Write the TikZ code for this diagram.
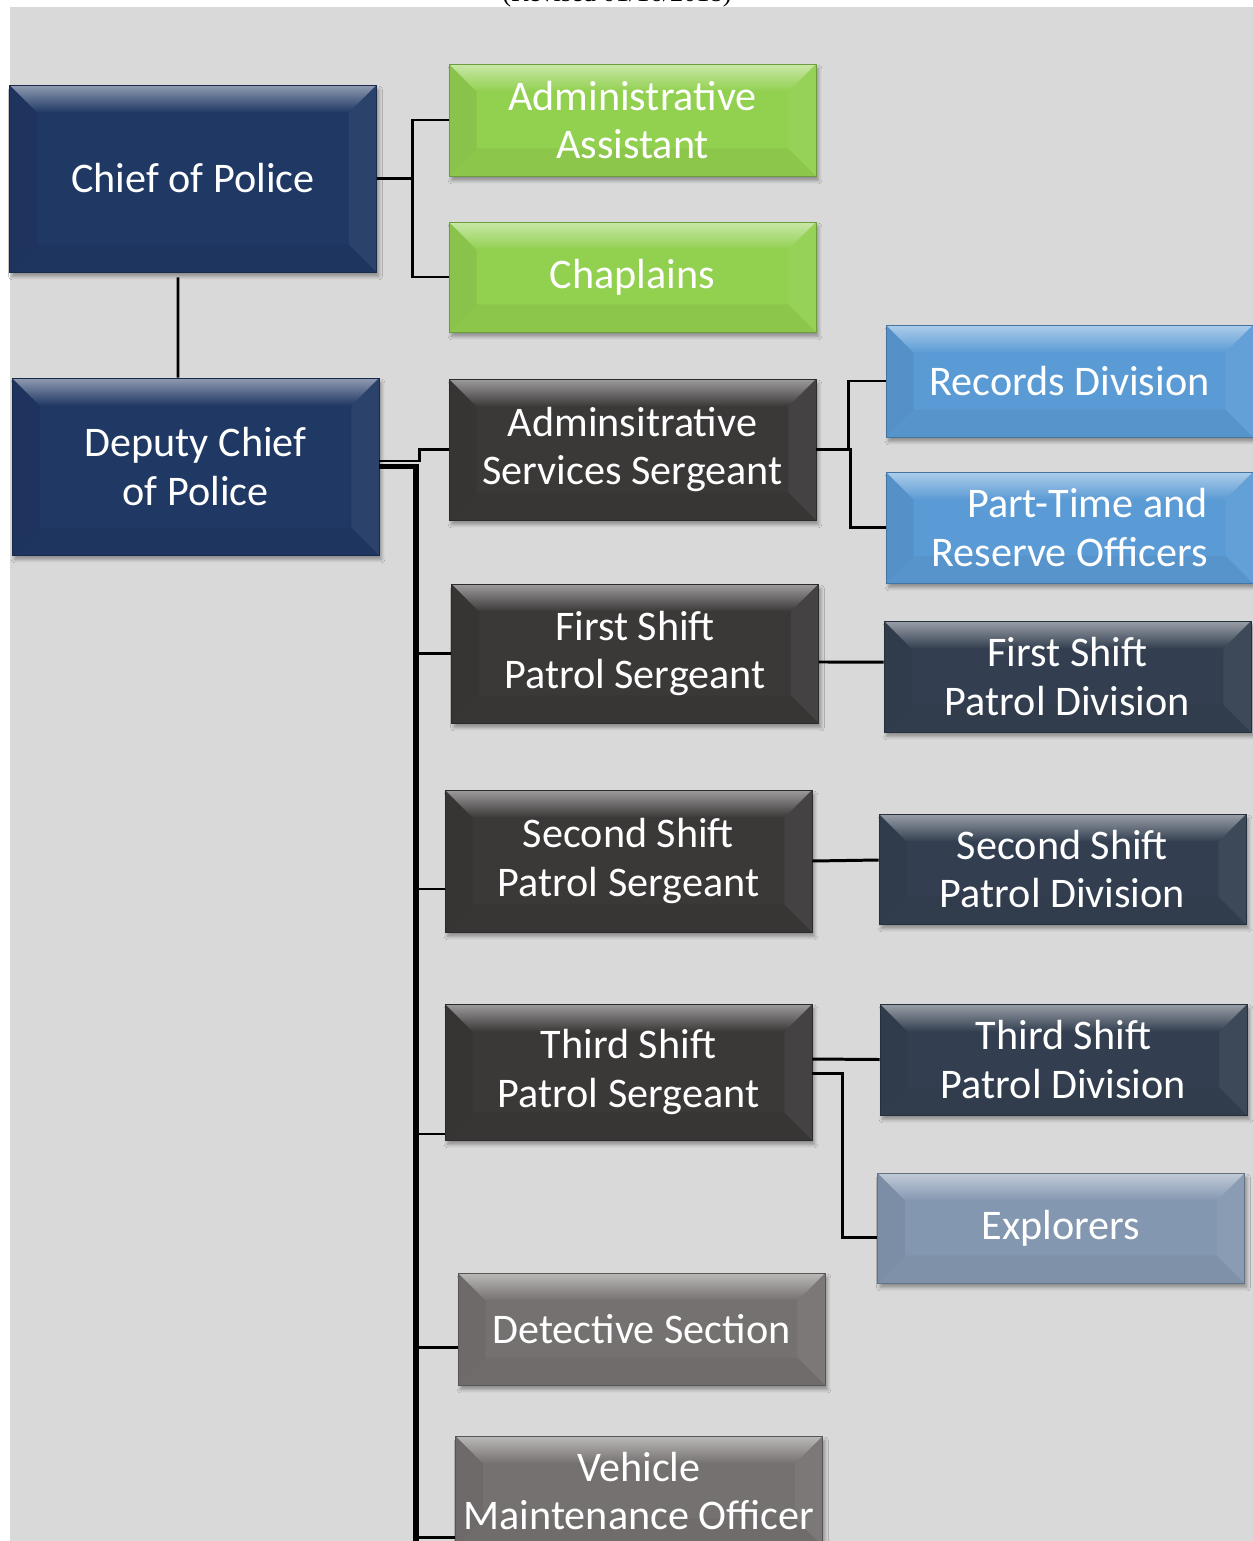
\documentclass[tikz,border=0pt]{standalone}
\usepackage{fontspec}
\setmainfont{Carlito}
\newfontfamily\revfont{Liberation Serif}
\usetikzlibrary{shadows.blur}
\definecolor{bggray}{RGB}{217,217,217}
\definecolor{chiefblue}{RGB}{32,56,100}
\definecolor{aidegreen}{RGB}{146,208,80}
\definecolor{sgtgray}{RGB}{59,56,56}
\definecolor{recblue}{RGB}{91,155,213}
\definecolor{divslate}{RGB}{51,63,80}
\definecolor{explgray}{RGB}{132,151,176}
\definecolor{detgray}{RGB}{118,113,113}

\begin{document}
\begin{tikzpicture}[x=0.02cm, y=-0.02cm,
  orgbox/.style = {shape=rectangle, draw=#1!75!black, fill=#1, text=white,
    align=center, inner sep=0pt, minimum width=7.34cm,
    font=\fontsize{24}{27.5}\selectfont,
    blur shadow={shadow xshift=0.05cm, shadow yshift=-0.09cm,
      shadow opacity=35, shadow blur steps=6},
    path picture={
      \path (path picture bounding box.north west) coordinate (bnw)
            (path picture bounding box.north east) coordinate (bne)
            (path picture bounding box.south west) coordinate (bsw)
            (path picture bounding box.south east) coordinate (bse);
      \fill[black, opacity=.06] (bnw) -- ([shift={(.55cm,-.55cm)}]bnw)
        -- ([shift={(.55cm,.55cm)}]bsw) -- (bsw) -- cycle;
      \fill[white, opacity=.05] (bne) -- ([shift={(-.55cm,-.55cm)}]bne)
        -- ([shift={(-.55cm,.55cm)}]bse) -- (bse) -- cycle;
      \fill[black, opacity=.04] (bsw) -- ([shift={(.55cm,.55cm)}]bsw)
        -- ([shift={(-.55cm,.55cm)}]bse) -- (bse) -- cycle;
      \shade[top color=#1!50!white, bottom color=#1] (bnw) -- (bne)
        -- ([shift={(-.55cm,-.55cm)}]bne) -- ([shift={(.55cm,-.55cm)}]bnw) -- cycle;
    }},
  link/.style = {draw=black, line width=1.7pt},
  bus/.style = {draw=black, line width=3.4pt, line join=miter}]

  \useasboundingbox (0,0) rectangle (1253,1541);
  \fill[white] (0,0) rectangle (1253,1541);
  \fill[bggray] (10,7) rectangle (1253,1541);
  \node[font=\revfont\fontsize{15}{18}\selectfont, anchor=base] (revised) at (617,2) {(Revised 01/16/2018)};

  % left column
  \node[orgbox=chiefblue, minimum height=3.74cm] (chief) at (193,178.5) {Chief of Police};
  \node[orgbox=chiefblue, minimum height=3.54cm] (deputy) at (195.5,466.5) {Deputy Chief\\of Police};

  % middle column
  \node[orgbox=aidegreen, minimum height=2.24cm] (assist) at (632.5,120) {Administrative\\Assistant};
  \node[orgbox=aidegreen, minimum height=2.2cm] (chaplains) at (632.5,277) {Chaplains};
  \node[orgbox=sgtgray, minimum height=2.82cm] (adminsgt) at (632.5,449.5) {Adminsitrative\\Services Sergeant};
  \node[orgbox=sgtgray, minimum height=2.78cm] (sgtone) at (635,653.5) {First Shift\\Patrol Sergeant};
  \node[orgbox=sgtgray, minimum height=2.84cm] (sgttwo) at (628.5,861) {Second Shift\\Patrol Sergeant};
  \node[orgbox=sgtgray, minimum height=2.72cm] (sgtthree) at (628.5,1072) {Third Shift\\Patrol Sergeant};
  \node[orgbox=detgray, minimum height=2.24cm] (detective) at (641.5,1329) {Detective Section};
  \node[orgbox=detgray, minimum height=2.2cm] (vehicle) at (639,1491) {Vehicle\\Maintenance Officer};

  % right column
  \node[orgbox=recblue, minimum height=2.24cm] (records) at (1069.5,381) {Records Division};
  \node[orgbox=recblue, minimum height=2.22cm, align=right] (parttime) at (1069.5,527.5) {Part-Time and\\Reserve Officers};
  \node[orgbox=divslate, minimum height=2.22cm] (divone) at (1067.5,676.5) {First Shift\\Patrol Division};
  \node[orgbox=divslate, minimum height=2.2cm] (divtwo) at (1062.5,869) {Second Shift\\Patrol Division};
  \node[orgbox=divslate, minimum height=2.22cm] (divthree) at (1063.5,1059.5) {Third Shift\\Patrol Division};
  \node[orgbox=explgray, minimum height=2.2cm] (explorers) at (1061,1228) {Explorers};

  % connectors
  \coordinate (busend) at (416,1550);
  \draw[link] (assist.west) -- ++(-36,0) |- (chief.east);
  \draw[link] (chaplains.west) -- ++(-36,0) |- (chief.east);
  \draw[link] ([xshift=-0.3cm,yshift=-0.1cm]chief.south) -- ([xshift=-0.35cm]deputy.north);
  \draw[link] (adminsgt.west) -- ++(-29,0) |- ([yshift=0.11cm]deputy.east);
  \draw[bus] (deputy.east) -| (busend);
  \draw[link] (sgtone.west) -- ++(-36,0);
  \draw[link] ([yshift=-0.56cm]sgttwo.west) -- ++(-29,0);
  \draw[link] ([yshift=-1.24cm]sgtthree.west) -- ++(-29,0);
  \draw[link] ([yshift=-0.36cm]detective.west) -- ++(-42,0);
  \draw[link] ([yshift=-0.92cm]vehicle.west) -- ++(-40,0);
  \draw[link] (records.west) -- ++(-37,0) |- (adminsgt.east);
  \draw[link] (parttime.west) -- ++(-35,0) |- (adminsgt.east);
  \draw[link] ([yshift=-0.17cm]sgtone.east) -- ([yshift=0.29cm]divone.west);
  \draw[link] (sgttwo.east) -- ([yshift=0.18cm]divtwo.west);
  \draw[link] ([yshift=0.26cm]sgtthree.east) -- (divthree.west);
  \draw[link] ([yshift=-0.02cm]sgtthree.east) -- ++(30,0) |- ([yshift=-0.18cm]explorers.west);
\end{tikzpicture}
\end{document}
